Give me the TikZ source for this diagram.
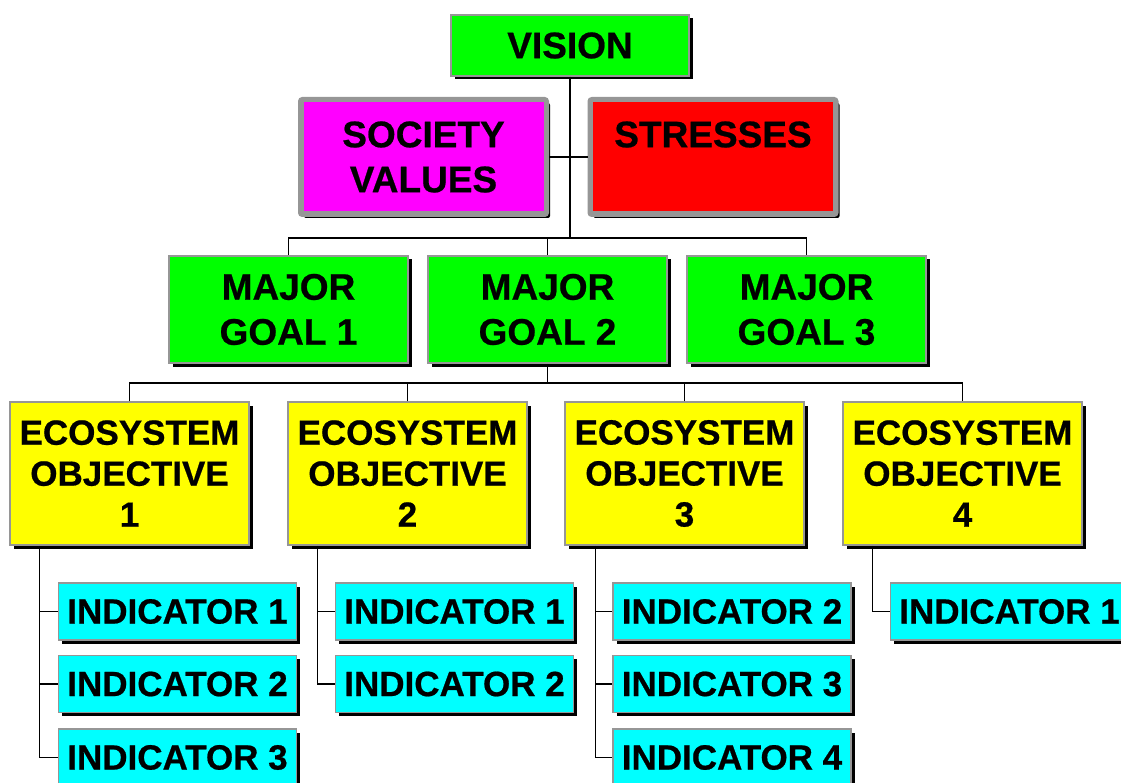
\documentclass[tikz,border=0pt]{standalone}
\usepackage{fontspec}
\setmainfont{Liberation Sans}[BoldFeatures={FakeBold=0.6}]
\usetikzlibrary{shadows}
\definecolor{cgreen}{RGB}{0,255,0}
\definecolor{cmag}{RGB}{255,0,255}
\definecolor{cred}{RGB}{255,0,0}
\definecolor{cyel}{RGB}{255,255,0}
\definecolor{ccyan}{RGB}{0,255,255}
\definecolor{cborder}{RGB}{150,150,150}
\tikzset{
  boxbase/.style={draw=cborder, line width=1.5pt, inner sep=0pt, align=center,
    drop shadow={shadow xshift=3.5pt, shadow yshift=-3.5pt, fill=black, opacity=1}},
  bigfont/.style={font=\fontsize{37}{45}\selectfont\bfseries},
  smallfont/.style={font=\fontsize{35}{41}\selectfont\bfseries},
  visionbox/.style={boxbase, bigfont, fill=cgreen, minimum width=238pt, minimum height=61pt},
  framedbox/.style={boxbase, bigfont, line width=5pt, rounded corners=2pt, minimum width=246pt, minimum height=115pt},
  goalbox/.style={boxbase, bigfont, fill=cgreen, minimum width=239pt, minimum height=107pt},
  ecobox/.style={boxbase, smallfont, fill=cyel, minimum width=239pt, minimum height=143pt},
  indbox/.style={boxbase, smallfont, fill=ccyan, minimum width=238pt, minimum height=57pt},
  conn/.style={draw=black, line width=1.5pt},
  innerline/.style={draw=cborder, line width=1pt}
}
\begin{document}
\begin{tikzpicture}[x=1pt, y=-1pt]
\useasboundingbox (0,0) rectangle (1121,783);
% level 0/1
\node[visionbox] (vision) at (570,45.5) {VISION};
\node[framedbox, fill=cmag] (society) at (423.5,157) {SOCIETY\\VALUES};
\node[framedbox, fill=cred] (stresses) at (713,157) {STRESSES\\\phantom{S}};
\draw[innerline] ([xshift=5pt,yshift=-5pt]society.north west) rectangle ([xshift=-5pt,yshift=5pt]society.south east);
\draw[innerline] ([xshift=5pt,yshift=-5pt]stresses.north west) rectangle ([xshift=-5pt,yshift=5pt]stresses.south east);
% goals
\node[goalbox] (g1) at (288.5,309.5) {MAJOR\\GOAL 1};
\node[goalbox] (g2) at (547.5,309.5) {MAJOR\\GOAL 2};
\node[goalbox] (g3) at (806.5,309.5) {MAJOR\\GOAL 3};
% ecosystem objectives
\node[ecobox] (e1) at (129.5,473.5) {ECOSYSTEM\\OBJECTIVE\\1};
\node[ecobox] (e2) at (407.5,473.5) {ECOSYSTEM\\OBJECTIVE\\2};
\node[ecobox] (e3) at (684.5,473.5) {ECOSYSTEM\\OBJECTIVE\\3};
\node[ecobox] (e4) at (962.5,473.5) {ECOSYSTEM\\OBJECTIVE\\4};
% indicators
\node[indbox] (i11) at (177.5,611.5) {INDICATOR 1};
\node[indbox] (i12) at (177.5,684) {INDICATOR 2};
\node[indbox] (i13) at (177.5,757.5) {INDICATOR 3};
\node[indbox] (i21) at (454.5,611.5) {INDICATOR 1};
\node[indbox] (i22) at (454.5,684) {INDICATOR 2};
\node[indbox] (i31) at (732,611.5) {INDICATOR 2};
\node[indbox] (i32) at (732,684) {INDICATOR 3};
\node[indbox] (i33) at (732,757.5) {INDICATOR 4};
\node[indbox] (i41) at (1009.5,611.5) {INDICATOR 1};
% connectors top
\coordinate (j1) at (570,238);
\coordinate (j2) at (547.5,383);
\draw[conn] (vision.south) -- (j1);
\draw[conn] (society.east) -- (stresses.west);
\draw[conn] (g1.north) |- (g3.north |- j1) -- (g3.north);
\draw[conn] (g2.north) -- (g2.north |- j1);
\draw[conn] (g2.south) -- (j2);
\draw[conn] (e1.north) |- (e4.north |- j2) -- (e4.north);
\draw[conn] (e2.north) -- (e2.north |- j2);
\draw[conn] (e3.north) -- (e3.north |- j2);
% indicators connectors
\draw[conn] ([xshift=30pt]e1.south west) |- (i13.west);
\draw[conn] ([xshift=30pt]e1.south west |- i11.west) -- (i11.west);
\draw[conn] ([xshift=30pt]e1.south west |- i12.west) -- (i12.west);
\draw[conn] ([xshift=30pt]e2.south west) |- (i22.west);
\draw[conn] ([xshift=30pt]e2.south west |- i21.west) -- (i21.west);
\draw[conn] ([xshift=31pt]e3.south west) |- (i33.west);
\draw[conn] ([xshift=31pt]e3.south west |- i31.west) -- (i31.west);
\draw[conn] ([xshift=31pt]e3.south west |- i32.west) -- (i32.west);
\draw[conn] ([xshift=30pt]e4.south west) |- (i41.west);
\end{tikzpicture}
\end{document}
